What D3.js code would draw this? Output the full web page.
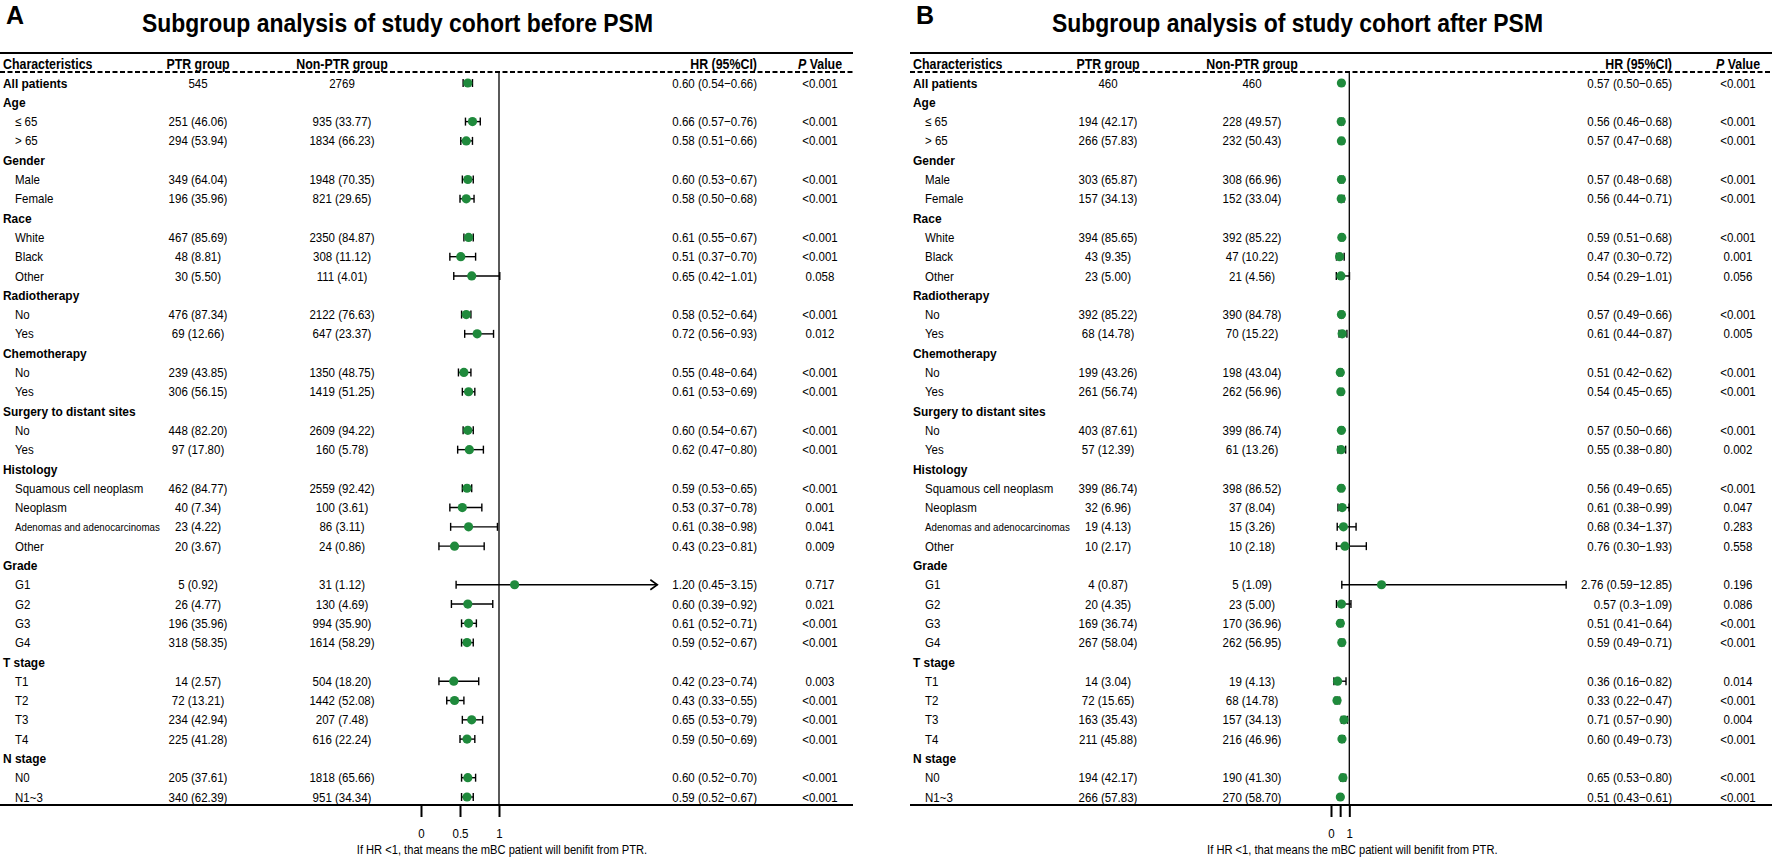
<!DOCTYPE html>
<html>
<head>
<meta charset="utf-8">
<script src="https://cdn.jsdelivr.net/npm/d3@7"></script>
<style>
  body { margin: 0; background: #fff; }
  svg { display: block; }
  text { font-family: "Liberation Sans", Arial, sans-serif; fill: #000; }
</style>
</head>
<body>
<svg width="1772" height="857"></svg>
<script>
// row labels (0 = bold group heading, 1 = indented item)
var rowLabels = ["All patients", "Age", "≤ 65", "> 65", "Gender", "Male", "Female",
  "Race", "White", "Black", "Other", "Radiotherapy", "No", "Yes", "Chemotherapy", "No", "Yes",
  "Surgery to distant sites", "No", "Yes", "Histology", "Squamous cell neoplasm", "Neoplasm",
  "Adenomas and adenocarcinomas", "Other", "Grade", "G1", "G2", "G3", "G4",
  "T stage", "T1", "T2", "T3", "T4", "N stage", "N0", "N1~3"];
var rowLevel = [0, 0, 1, 1, 0, 1, 1, 0, 1, 1, 1, 0, 1, 1, 0, 1, 1, 0, 1, 1, 0, 1, 1, 1, 1,
  0, 1, 1, 1, 1, 0, 1, 1, 1, 1, 0, 1, 1];

// before PSM
var ptrA = ["545", "251 (46.06)", "294 (53.94)", "349 (64.04)", "196 (35.96)", "467 (85.69)", "48 (8.81)",
  "30 (5.50)", "476 (87.34)", "69 (12.66)", "239 (43.85)", "306 (56.15)", "448 (82.20)", "97 (17.80)",
  "462 (84.77)", "40 (7.34)", "23 (4.22)", "20 (3.67)", "5 (0.92)", "26 (4.77)", "196 (35.96)",
  "318 (58.35)", "14 (2.57)", "72 (13.21)", "234 (42.94)", "225 (41.28)", "205 (37.61)", "340 (62.39)"];
var nonA = ["2769", "935 (33.77)", "1834 (66.23)", "1948 (70.35)", "821 (29.65)", "2350 (84.87)", "308 (11.12)",
  "111 (4.01)", "2122 (76.63)", "647 (23.37)", "1350 (48.75)", "1419 (51.25)", "2609 (94.22)", "160 (5.78)",
  "2559 (92.42)", "100 (3.61)", "86 (3.11)", "24 (0.86)", "31 (1.12)", "130 (4.69)", "994 (35.90)",
  "1614 (58.29)", "504 (18.20)", "1442 (52.08)", "207 (7.48)", "616 (22.24)", "1818 (65.66)", "951 (34.34)"];
var hrA = ["0.60", "0.66", "0.58", "0.60", "0.58", "0.61", "0.51", "0.65", "0.58", "0.72", "0.55", "0.61",
  "0.60", "0.62", "0.59", "0.53", "0.61", "0.43", "1.20", "0.60", "0.61", "0.59", "0.42", "0.43", "0.65",
  "0.59", "0.60", "0.59"];
var loA = ["0.54", "0.57", "0.51", "0.53", "0.50", "0.55", "0.37", "0.42", "0.52", "0.56", "0.48", "0.53",
  "0.54", "0.47", "0.53", "0.37", "0.38", "0.23", "0.45", "0.39", "0.52", "0.52", "0.23", "0.33", "0.53",
  "0.50", "0.52", "0.52"];
var hiA = ["0.66", "0.76", "0.66", "0.67", "0.68", "0.67", "0.70", "1.01", "0.64", "0.93", "0.64", "0.69",
  "0.67", "0.80", "0.65", "0.78", "0.98", "0.81", "3.15", "0.92", "0.71", "0.67", "0.74", "0.55", "0.79",
  "0.69", "0.70", "0.67"];
var pA = ["<0.001", "<0.001", "<0.001", "<0.001", "<0.001", "<0.001", "<0.001", "0.058", "<0.001", "0.012",
  "<0.001", "<0.001", "<0.001", "<0.001", "<0.001", "0.001", "0.041", "0.009", "0.717", "0.021", "<0.001",
  "<0.001", "0.003", "<0.001", "<0.001", "<0.001", "<0.001", "<0.001"];

// after PSM
var ptrB = ["460", "194 (42.17)", "266 (57.83)", "303 (65.87)", "157 (34.13)", "394 (85.65)", "43 (9.35)",
  "23 (5.00)", "392 (85.22)", "68 (14.78)", "199 (43.26)", "261 (56.74)", "403 (87.61)", "57 (12.39)",
  "399 (86.74)", "32 (6.96)", "19 (4.13)", "10 (2.17)", "4 (0.87)", "20 (4.35)", "169 (36.74)",
  "267 (58.04)", "14 (3.04)", "72 (15.65)", "163 (35.43)", "211 (45.88)", "194 (42.17)", "266 (57.83)"];
var nonB = ["460", "228 (49.57)", "232 (50.43)", "308 (66.96)", "152 (33.04)", "392 (85.22)", "47 (10.22)",
  "21 (4.56)", "390 (84.78)", "70 (15.22)", "198 (43.04)", "262 (56.96)", "399 (86.74)", "61 (13.26)",
  "398 (86.52)", "37 (8.04)", "15 (3.26)", "10 (2.18)", "5 (1.09)", "23 (5.00)", "170 (36.96)",
  "262 (56.95)", "19 (4.13)", "68 (14.78)", "157 (34.13)", "216 (46.96)", "190 (41.30)", "270 (58.70)"];
var hrB = ["0.57", "0.56", "0.57", "0.57", "0.56", "0.59", "0.47", "0.54", "0.57", "0.61", "0.51", "0.54",
  "0.57", "0.55", "0.56", "0.61", "0.68", "0.76", "2.76", "0.57", "0.51", "0.59", "0.36", "0.33", "0.71",
  "0.60", "0.65", "0.51"];
var loB = ["0.50", "0.46", "0.47", "0.48", "0.44", "0.51", "0.30", "0.29", "0.49", "0.44", "0.42", "0.45",
  "0.50", "0.38", "0.49", "0.38", "0.34", "0.30", "0.59", "0.3", "0.41", "0.49", "0.16", "0.22", "0.57",
  "0.49", "0.53", "0.43"];
var hiB = ["0.65", "0.68", "0.68", "0.68", "0.71", "0.68", "0.72", "1.01", "0.66", "0.87", "0.62", "0.65",
  "0.66", "0.80", "0.65", "0.99", "1.37", "1.93", "12.85", "1.09", "0.64", "0.71", "0.82", "0.47", "0.90",
  "0.73", "0.80", "0.61"];
var pB = ["<0.001", "<0.001", "<0.001", "<0.001", "<0.001", "<0.001", "0.001", "0.056", "<0.001", "0.005",
  "<0.001", "<0.001", "<0.001", "0.002", "<0.001", "0.047", "0.283", "0.558", "0.196", "0.086", "<0.001",
  "<0.001", "0.014", "<0.001", "0.004", "<0.001", "<0.001", "<0.001"];

var tickValues = [0, 0.5, 1];
var tickLabelsA = ["0", "0.5", "1"];
var tickLabelsB = ["0", "", "1"];

var SX = 0.885;           // narrow look of the original lettering
var green = "#1f8a3c";

var svg = d3.select("svg");
svg.append("rect").attr("width", 1772).attr("height", 857).attr("fill", "#fff");

var y = d3.scalePoint().domain(d3.range(rowLabels.length)).range([83, 797]);

function addText(g, x, yy, s, size, anchor, weight) {
  return g.append("text")
    .attr("transform", "translate(" + x + "," + yy + ") scale(" + SX + ",1)")
    .attr("font-size", size)
    .attr("text-anchor", anchor || "start")
    .attr("font-weight", weight || "normal")
    .text(s);
}

function drawPanel(p) {
  var g = svg.append("g");
  var x = d3.scaleLinear().domain([0, 1]).range(p.range);

  g.append("text").attr("x", p.left + 6).attr("y", 24)
    .attr("font-size", 25).attr("font-weight", "bold").text(p.tag);
  g.append("text").attr("x", p.title[0]).attr("y", 32)
    .attr("font-size", 26).attr("font-weight", "bold")
    .attr("textLength", p.title[1] - p.title[0]).attr("lengthAdjust", "spacingAndGlyphs")
    .text(p.titleText);

  // header
  addText(g, p.left + 3, 68.5, "Characteristics", 14, "start", "bold");
  addText(g, p.colPtr, 68.5, "PTR group", 14, "middle", "bold");
  addText(g, p.colNon, 68.5, "Non-PTR group", 14, "middle", "bold");
  addText(g, p.colHr, 68.5, "HR (95%CI)", 14, "end", "bold");
  var pv = addText(g, p.colP, 68.5, "", 14, "middle", "bold");
  pv.append("tspan").attr("font-style", "italic").text("P");
  pv.append("tspan").text(" Value");

  g.append("line").attr("x1", p.left).attr("x2", p.right).attr("y1", 53).attr("y2", 53)
    .attr("stroke", "#000").attr("stroke-width", 2.2);
  g.append("line").attr("x1", p.left).attr("x2", p.right).attr("y1", 72).attr("y2", 72)
    .attr("stroke", "#000").attr("stroke-width", 1.8).attr("stroke-dasharray", "5,2.5");
  g.append("line").attr("x1", p.left).attr("x2", p.right).attr("y1", 805).attr("y2", 805)
    .attr("stroke", "#000").attr("stroke-width", 2);

  // reference line at HR = 1
  g.append("line").attr("x1", x(1)).attr("x2", x(1)).attr("y1", 72).attr("y2", 805)
    .attr("stroke", "#000").attr("stroke-width", 1.3);

  var k = 0;
  rowLabels.forEach(function (lab, i) {
    var cy = y(i), by = cy + 4.6;
    if (rowLevel[i] === 0) {
      addText(g, p.left + 3, by, lab, 13.5, "start", "bold");
    } else {
      addText(g, p.left + 15, by, lab, lab.length > 24 ? 11 : 13);
    }
    if (i > 0 && rowLevel[i] === 0) return;

    addText(g, p.colPtr, by, p.ptr[k], 13, "middle");
    addText(g, p.colNon, by, p.non[k], 13, "middle");
    addText(g, p.colHr, by, p.hr[k] + " (" + p.lo[k] + "\u2212" + p.hi[k] + ")", 13, "end");
    addText(g, p.colP, by, p.p[k], 13, "middle");

    var lo = +p.lo[k], hi = +p.hi[k], hr = +p.hr[k];
    var clipped = hi > p.clip;
    var xr = x(Math.min(hi, p.clip));
    g.append("line").attr("x1", x(lo)).attr("x2", xr).attr("y1", cy).attr("y2", cy)
      .attr("stroke", "#000").attr("stroke-width", 1.4);
    g.append("line").attr("x1", x(lo)).attr("x2", x(lo)).attr("y1", cy - 4).attr("y2", cy + 4)
      .attr("stroke", "#000").attr("stroke-width", 1.4);
    if (clipped) {
      g.append("path").attr("d", "M" + (xr - 7) + "," + (cy - 5) + "L" + xr + "," + cy + "L" + (xr - 7) + "," + (cy + 5))
        .attr("fill", "none").attr("stroke", "#000").attr("stroke-width", 1.6);
    } else {
      g.append("line").attr("x1", xr).attr("x2", xr).attr("y1", cy - 4).attr("y2", cy + 4)
        .attr("stroke", "#000").attr("stroke-width", 1.4);
    }
    g.append("circle").attr("cx", x(hr)).attr("cy", cy).attr("r", 4.6).attr("fill", green);
    k++;
  });

  // axis
  var axis = g.append("g").attr("transform", "translate(0,805)")
    .call(d3.axisBottom(x).tickValues(tickValues).tickSize(12).tickPadding(12)
      .tickFormat(function (d, i) { return p.tickLabels[i]; }));
  axis.select(".domain").remove();
  axis.selectAll(".tick line").attr("stroke", "#000").attr("stroke-width", 2);
  axis.selectAll(".tick text").attr("font-size", 13).attr("fill", "#000")
    .attr("font-family", "Liberation Sans, Arial, sans-serif")
    .attr("transform", "scale(" + SX + ",1)");

  addText(g, x(1) + 3, 853.5, "If HR <1, that means the mBC patient will benifit from PTR.", 12.6, "middle");
}

drawPanel({
  tag: "A", titleText: "Subgroup analysis of study cohort before PSM", title: [142, 653],
  left: 0, right: 853, colPtr: 198, colNon: 342, colHr: 757, colP: 820,
  range: [421, 499], clip: 3.03, tickLabels: tickLabelsA,
  ptr: ptrA, non: nonA, hr: hrA, lo: loA, hi: hiA, p: pA
});
drawPanel({
  tag: "B", titleText: "Subgroup analysis of study cohort after PSM", title: [1052, 1543],
  left: 910, right: 1772, colPtr: 1108, colNon: 1252, colHr: 1672, colP: 1738,
  range: [1331, 1349.3], clip: 20, tickLabels: tickLabelsB,
  ptr: ptrB, non: nonB, hr: hrB, lo: loB, hi: hiB, p: pB
});
</script>
</body>
</html>
